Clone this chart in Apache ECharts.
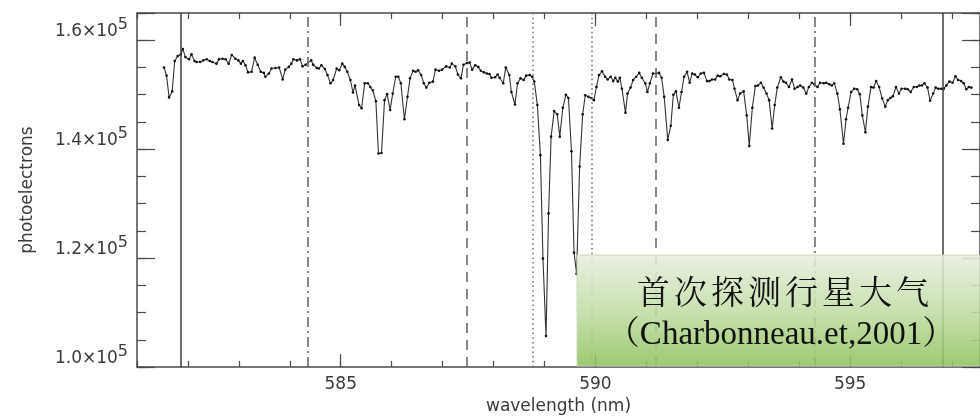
<!DOCTYPE html>
<html>
<head>
<meta charset="utf-8">
<script src="https://cdn.jsdelivr.net/npm/echarts@6.0.0/dist/echarts.min.js"></script>
<style>
  html, body { margin: 0; padding: 0; background: #fff; }
  #chart1 { width: 980px; height: 420px; }
</style>
</head>
<body>
<div id="chart1"></div>
<script>
    // spectrum: wavelength (nm) and photoelectrons
    var wavelength = [
        581.53, 581.58, 581.63, 581.69, 581.74, 581.80, 581.86, 581.90, 581.95, 582.02,
        582.07, 582.13, 582.17, 582.24, 582.30, 582.37, 582.43, 582.48, 582.56, 582.61,
        582.68, 582.74, 582.80, 582.86, 582.93, 582.99, 583.04, 583.08, 583.13, 583.18,
        583.25, 583.31, 583.37, 583.43, 583.49, 583.52, 583.59, 583.64, 583.72, 583.79,
        583.86, 583.91, 583.98, 584.03, 584.07, 584.14,
        584.20, 584.25, 584.31, 584.42, 584.46, 584.53, 584.57, 584.62, 584.69, 584.74,
        584.80, 584.85, 584.92, 584.97, 585.03, 585.08, 585.13, 585.19, 585.24, 585.28,
        585.36, 585.41, 585.47, 585.53, 585.58, 585.63, 585.69, 585.74, 585.80, 585.86,
        585.91, 585.97, 586.02, 586.08, 586.13, 586.18, 586.25, 586.31, 586.36, 586.42,
        586.47, 586.52, 586.58, 586.63, 586.68, 586.74, 586.81, 586.86,
        586.93, 586.99, 587.07, 587.14, 587.18, 587.25, 587.30, 587.36, 587.41, 587.48,
        587.53, 587.58, 587.64, 587.70, 587.75, 587.81, 587.87, 587.92, 587.96, 588.03,
        588.08, 588.12, 588.19, 588.24, 588.31, 588.35, 588.42, 588.47, 588.53, 588.59,
        588.64, 588.71, 588.76, 588.80, 588.86, 588.92, 588.97, 589.03, 589.08, 589.13,
        589.19, 589.25, 589.30, 589.36, 589.42, 589.47, 589.53, 589.58, 589.63, 589.69,
        589.75, 589.80, 589.86, 589.92, 589.97,
        590.02, 590.07, 590.13, 590.19, 590.24, 590.30, 590.35, 590.39, 590.44, 590.48,
        590.52, 590.59, 590.63, 590.69, 590.74, 590.80, 590.86, 590.91, 590.98, 591.02,
        591.07, 591.13, 591.19, 591.25, 591.30, 591.35, 591.42, 591.48, 591.53, 591.58,
        591.64, 591.69, 591.74, 591.80, 591.85, 591.90, 591.95, 592.01, 592.07, 592.13,
        592.19, 592.24, 592.29, 592.35, 592.40, 592.45, 592.52, 592.58, 592.63, 592.69,
        592.73, 592.79, 592.84, 592.91, 592.97, 593.02, 593.08, 593.14, 593.19, 593.25,
        593.30, 593.36, 593.41, 593.47, 593.52, 593.57, 593.64, 593.69, 593.74, 593.80,
        593.86, 593.91, 593.97, 594.02, 594.08, 594.14, 594.19, 594.25, 594.30, 594.36,
        594.41, 594.48, 594.53, 594.59, 594.64, 594.69, 594.75, 594.80,
        594.87, 594.92, 594.96, 595.02, 595.08, 595.14, 595.19, 595.24, 595.30, 595.35,
        595.41, 595.46, 595.51, 595.57, 595.63, 595.69, 595.74, 595.79, 595.84, 595.90,
        595.96, 596.01, 596.08, 596.13, 596.19, 596.25, 596.31, 596.36, 596.41, 596.46,
        596.52, 596.57, 596.63, 596.68, 596.73, 596.79, 596.84, 596.89, 596.95, 597.01,
        597.07, 597.12, 597.18, 597.23, 597.28, 597.33, 597.38
    ];
    var photoelectrons = [
        155000, 153500, 149500, 150600, 156200, 157100, 157400, 158400, 156900, 156500,
        157400, 156200, 156000, 156000, 156300, 156500, 156200, 156000, 155700, 156500,
        156600, 156500, 155700, 157300, 156600, 156300, 155700, 156200, 155400, 154100,
        154200, 156800, 155500, 154200, 154000, 153300, 153900, 154800, 154900, 155000,
        152800, 154600, 155100, 155700, 156500, 156300,
        156500, 155200, 155500, 156300, 155500, 154900, 154800, 155400, 154700, 153600,
        152100, 152700, 154800, 154500, 155700, 155100, 154200, 152700, 150400, 151700,
        148100, 147500, 152100, 152100, 151400, 150800, 148800, 139200, 139300, 149000,
        150100, 147200, 150200, 153300, 153300, 152100, 145500, 149600, 153000, 154400,
        154200, 154500, 153600, 152100, 151300, 152200, 152400, 154600,
        154400, 154600, 155200, 155000, 155700, 155200, 153700, 153000, 155500, 155800,
        155900, 154600, 155400, 155100, 154400, 154100, 153900, 153800, 153100, 153200,
        153700, 153100, 152100, 155000, 153600, 150500, 148200, 152100, 153000, 152700,
        153500, 153600, 153300, 152400, 148100, 138900, 119900, 105700, 128200, 142300,
        147000, 146400, 142300, 147600, 150000, 149400, 139600, 121000, 117100, 136800,
        146400, 149900, 149600, 149400, 149000,
        151400, 153600, 154300, 153300, 152800, 153300, 152500, 153100, 152400, 153100,
        151100, 146700, 150200, 151300, 152700, 153300, 154000, 153100, 152100, 150500,
        152100, 153900, 153900, 154000, 153100, 149600, 141700, 144300, 150000, 150600,
        147600, 150500, 153300, 154200, 152200, 153900, 153700, 153200, 153900, 154000,
        152500, 152500, 152800, 152800, 153500, 153400, 153800, 153700, 152800, 152700,
        151100, 149000, 150200, 150600, 146200, 140600, 147600, 151600, 151700, 152200,
        151300, 150200, 149000, 143800, 148100, 151300, 153200, 152400, 152200, 151400,
        152800, 151100, 151400, 151700, 151300, 150200, 151400, 152200, 151900, 151400,
        152200, 152100, 152200, 151900, 151700, 152100, 150200, 147300,
        141000, 145500, 147600, 150500, 151100, 151000, 150100, 146200, 143100, 147800,
        151400, 151300, 152500, 151400, 149300, 147800, 149000, 149400, 149700, 151400,
        150200, 151100, 151100, 151000, 150500, 151400, 151400, 151700, 151700, 152100,
        151300, 148900, 150200, 151300, 151100, 151100, 151100, 151700, 152400, 152200,
        153400, 152700, 152500, 152100, 151000, 151400, 151300
    ];
    // tick labels
    var majorWave = [585, 590, 595];
    var yTicks = [100000, 120000, 140000, 160000];
    // vertical marker lines (nm)
    var solidLines = [581.86, 596.82];
    var dashDotLines = [584.35, 594.31];
    var dashedLines = [587.48, 591.19];
    var dottedLines = [588.76, 589.93];
    // text in the green box
    var boxTitle = '首次探测行星大气';
    var boxSource = '（Charbonneau.et,2001）';

    var axisColor = '#4a4a4a';
    var labelFont = 'DejaVu Sans';

    var seriesData = [];
    for (var i = 0; i < wavelength.length; i++) {
        seriesData.push([wavelength[i], photoelectrons[i]]);
    }

    var marks = [];
    function addMarks(list, type, color, width) {
        list.forEach(function (x) {
            marks.push({ xAxis: x, lineStyle: { type: type, color: color, width: width } });
        });
    }
    addMarks(solidLines, 'solid', '#3c3c3c', 1.5);
    addMarks(dashDotLines, [10, 4, 2, 4], '#6a6a6a', 1.6);
    addMarks(dashedLines, [10, 7], '#6a6a6a', 1.6);
    addMarks(dottedLines, [1.5, 3.2], '#6a6a6a', 1.5);

    function xAxisDef(pos, major) {
        var a = {
            type: 'value', position: pos, min: 581, max: 597.55,
            axisLine: { show: major, onZero: false, lineStyle: { color: axisColor, width: 1.5 } },
            axisTick: { show: true, inside: true, length: major ? 13 : 6,
                        lineStyle: { color: axisColor, width: 1.2 } },
            axisLabel: { show: false },
            splitLine: { show: false }
        };
        if (major) {
            a.axisTick.customValues = majorWave;
        } else {
            a.interval = 1;
        }
        return a;
    }
    function yAxisDef(pos, major) {
        return {
            type: 'value', position: pos, min: 100000, max: 165000,
            interval: major ? 20000 : 5000,
            axisLine: { show: major, onZero: false, lineStyle: { color: axisColor, width: 1.5 } },
            axisTick: { show: true, inside: true, length: major ? 18 : 9,
                        lineStyle: { color: axisColor, width: 1.2 } },
            axisLabel: { show: false },
            splitLine: { show: false }
        };
    }

    var xBottom = xAxisDef('bottom', true);
    xBottom.axisLabel = {
        show: true, customValues: majorWave, margin: 9,
        fontFamily: labelFont, fontSize: 17, color: '#3a3a3a'
    };
    xBottom.name = 'wavelength (nm)';
    xBottom.nameLocation = 'middle';
    xBottom.nameGap = 31;
    xBottom.nameTextStyle = { fontFamily: labelFont, fontSize: 17, color: '#3a3a3a' };

    var yLeft = yAxisDef('left', true);
    yLeft.axisLabel = {
        show: true, margin: 9, verticalAlign: 'bottom',
        formatter: function (v) {
            if (yTicks.indexOf(v) < 0) return '';
            return '{b|' + (v / 100000).toFixed(1) + '×10}{s|5}';
        },
        rich: {
            b: { fontFamily: labelFont, fontSize: 17, lineHeight: 17, color: '#3a3a3a', verticalAlign: 'bottom' },
            s: { fontFamily: labelFont, fontSize: 16, lineHeight: 16, color: '#3a3a3a',
                 padding: [0, 0, 7, 0], verticalAlign: 'bottom' }
        }
    };
    yLeft.name = 'photoelectrons';
    yLeft.nameLocation = 'middle';
    yLeft.nameGap = 101;
    yLeft.nameTextStyle = { fontFamily: labelFont, fontSize: 17, color: '#3a3a3a' };

    // title characters are spaced out a little, as on the slide
    var titleRich = boxTitle.split('').map(function (c) { return '{c|' + c + '}'; }).join('');

    var chartDom = document.getElementById('chart1');
    var myChart = echarts.init(chartDom, null, { renderer: 'canvas' });
    var option = {
        animation: false,
        backgroundColor: '#ffffff',
        // the right frame sits just past the picture edge
        grid: { left: 137, top: 13, width: 851, height: 354 },
        xAxis: [xBottom, xAxisDef('bottom', false), xAxisDef('top', true), xAxisDef('top', false)],
        yAxis: [yLeft, yAxisDef('left', false), yAxisDef('right', true), yAxisDef('right', false)],
        series: [{
            type: 'line',
            xAxisIndex: 0,
            yAxisIndex: 0,
            data: seriesData,
            symbol: 'circle',
            symbolSize: 2.6,
            lineStyle: { color: '#333', width: 1.1 },
            itemStyle: { color: '#111' },
            clip: true,
            markLine: {
                silent: true,
                symbol: ['none', 'none'],
                label: { show: false },
                animation: false,
                data: marks
            }
        }],
        graphic: [
            {
                type: 'rect', z: 100,
                shape: { x: 577, y: 255, width: 420, height: 111 },
                style: {
                    fill: new echarts.graphic.LinearGradient(0, 0, 0, 1, [
                        { offset: 0, color: '#e6efdd' },
                        { offset: 0.5, color: '#c2dda6' },
                        { offset: 1, color: '#8fc25f' }
                    ]),
                    stroke: '#c5d6b8', lineWidth: 1, opacity: 0.88
                }
            },
            {
                type: 'text', z: 101, x: 783, y: 291,
                style: {
                    text: titleRich, fill: '#111',
                    align: 'center', verticalAlign: 'middle',
                    rich: {
                        c: { fontFamily: '"Noto Serif CJK SC", "Noto Sans CJK SC"', fontSize: 33,
                             color: '#111', padding: [0, 2, 0, 2] }
                    }
                }
            },
            {
                type: 'text', z: 101, x: 781, y: 335,
                style: {
                    text: boxSource, fill: '#111',
                    fontFamily: '"Liberation Serif", "Noto Serif CJK SC", "Noto Sans CJK SC"', fontSize: 33,
                    align: 'center', verticalAlign: 'middle'
                }
            }
        ]
    };
    option && myChart.setOption(option);
</script>
</body>
</html>
